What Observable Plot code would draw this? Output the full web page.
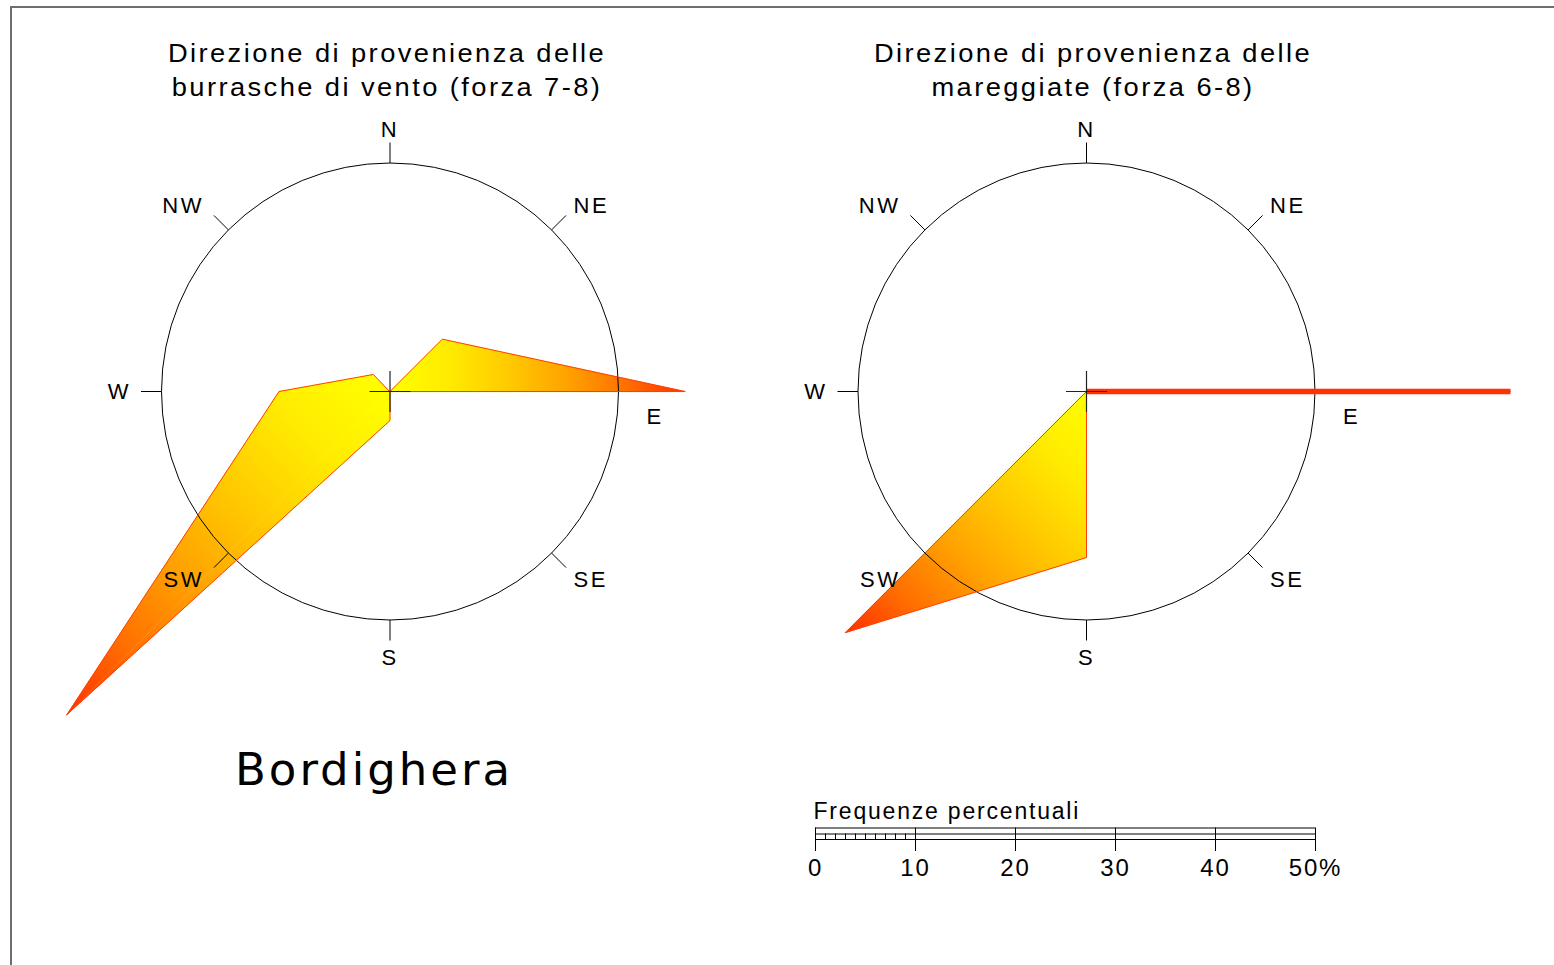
<!DOCTYPE html>
<html><head><meta charset="utf-8">
<script src="https://cdn.jsdelivr.net/npm/d3@7"></script>
<script src="https://cdn.jsdelivr.net/npm/@observablehq/plot@0.6"></script>
<style>
html,body{margin:0;padding:0;background:#fff;overflow:hidden}
#page{position:relative;width:1554px;height:965px;background:#fff;font-family:"Liberation Sans",Arial,sans-serif;color:#000}
#frame{position:absolute;left:10px;top:6px;width:1544px;height:959px;border-top:2px solid #6e6e6e;border-left:2px solid #6e6e6e;box-sizing:border-box}
.title{position:absolute;width:700px;text-align:center;font-size:26px;line-height:34px;letter-spacing:2.3px;transform:scaleX(1.05);transform-origin:50% 0;white-space:nowrap}
.station{position:absolute;font-family:"DejaVu Sans",sans-serif;font-size:45px;line-height:45px;letter-spacing:3px;white-space:nowrap}
</style></head>
<body><div id="page"><div id="frame"></div></div>
<script>
// ---- data ----
const directions = ["N", "NE", "E", "SE", "S", "SW", "W", "NW"];
const windGales = [0, 7.4, 29.5, 0, 2.9, 45.7, 11.1, 2.4];   // burrasche di vento forza 7-8 (%)
const seaStorms = [0, 0, 42.4, 0, 16.6, 34.1, 0, 0];         // mareggiate forza 6-8 (%)
const titleWind = ["Direzione di provenienza delle", "burrasche di vento (forza 7-8)"];
const titleSea = ["Direzione di provenienza delle", "mareggiate (forza 6-8)"];
const stationName = "Bordighera";
const scaleLabel = "Frequenze percentuali";
const scaleTicks = [0, 10, 20, 30, 40, 50];
const scaleTickLabels = ["0", "10", "20", "30", "40", "50%"];
const minorTicks = [1, 2, 3, 4, 5, 6, 7, 8, 9];

// ---- helpers ----
const page = document.getElementById("page");
const PX = 10;          // pixels per percent
const RING = 22.85;     // reference circle radius (%)
const TICK = 2.05;      // compass tick length (%)
const ramp = d3.scaleLinear().domain([0, 0.25, 0.5, 0.75, 1])
  .range(["#ffff00", "#ffe600", "#ffb800", "#ff8000", "#ff3000"]).clamp(true);
const ns = "http://www.w3.org/2000/svg";

function addTitle(lines, cx, top) {
  const d = document.createElement("div");
  d.className = "title";
  d.style.left = (cx - 350) + "px";
  d.style.top = top + "px";
  d.innerHTML = lines.map(s => s.replace(/&/g, "&amp;")).join("<br>");
  page.appendChild(d);
}

function rose(id, values, cx, cy, left, top, width, height) {
  const ang = i => i * Math.PI / 4;
  const pts = directions.map((d, i) => ({dir: d, i, v: values[i],
    x: values[i] * Math.sin(ang(i)), y: values[i] * Math.cos(ang(i))}));
  const triRows = [], grads = [];
  pts.forEach((a, i) => {
    const b = pts[(i + 1) % 8];
    if (a.v > 0 && b.v > 0) {
      const far = a.v >= b.v ? a : b;
      const gid = `${id}g${i}`;
      grads.push({id: gid, far, tEnd: Math.max(0, Math.min(1, (far.v - 8) / 20))});
      const g = `url(#${gid})`;
      triRows.push({tri: i, x: 0, y: 0, g}, {tri: i, x: a.x, y: a.y, g}, {tri: i, x: b.x, y: b.y, g});
    }
  });
  const spikes = pts.filter((p, i) => p.v > 0 && pts[(i + 7) % 8].v === 0 && pts[(i + 1) % 8].v === 0);
  // labels sit just beyond the tick ends
  const R2 = RING + TICK;
  const labels = pts.map(p => {
    const s = Math.sin(ang(p.i)), c = Math.cos(ang(p.i));
    const side = s > 0.01 ? 1 : s < -0.01 ? -1 : 0;
    const offX = side === 1 ? 0.75 : side === -1 ? -1.0 : 0;
    const offY = p.dir === "E" ? -2.5 : (c > 0 ? 1.3 * c : 1.7 * c);
    return {dir: p.dir, side, x: R2 * s + offX, y: R2 * c + offY};
  });
  const txt = {x: "x", y: "y", text: "dir", fontSize: 22, fill: "#000"};
  const chart = Plot.plot({
    width, height, margin: 0,
    x: {domain: [(left - cx) / PX, (left + width - cx) / PX], axis: null},
    y: {domain: [(cy - top - height) / PX, (cy - top) / PX], axis: null},
    color: {type: "identity"},
    style: {fontFamily: "'Liberation Sans', Arial, sans-serif", background: "transparent", letterSpacing: "2.5px", overflow: "visible"},
    marks: [
      Plot.line(triRows, {x: "x", y: "y", z: "tri", fill: "g", stroke: "g", strokeWidth: 0.6, curve: "linear-closed"}),
      Plot.dot([[0, 0]], {r: RING * PX, stroke: "#000", strokeWidth: 1, fill: "none"}),
      Plot.link(pts, {x1: d => RING * Math.sin(ang(d.i)), y1: d => RING * Math.cos(ang(d.i)),
        x2: d => R2 * Math.sin(ang(d.i)), y2: d => R2 * Math.cos(ang(d.i)),
        stroke: "#000", strokeWidth: 1}),
      Plot.line(pts, {x: "x", y: "y", curve: "linear-closed", stroke: "#ff4000", strokeWidth: 1, fill: "none"}),
      Plot.link(spikes, {x1: 0, y1: 0, x2: "x", y2: "y", stroke: "#ff3300", strokeWidth: 5.5}),
      Plot.link([[-2.05, 0, 2.05, 0], [0, -2.05, 0, 2.05]], {x1: d => d[0], y1: d => d[1], x2: d => d[2], y2: d => d[3], stroke: "#222", strokeWidth: 1.2}),
      Plot.text(labels.filter(d => d.side === 0), {...txt, textAnchor: "middle"}),
      Plot.text(labels.filter(d => d.side === 1), {...txt, textAnchor: "start"}),
      Plot.text(labels.filter(d => d.side === -1), {...txt, textAnchor: "end"})
    ]
  });
  // gradient definitions (user space, pixel coordinates of this svg)
  const ox = cx - left, oy = cy - top;
  const defs = document.createElementNS(ns, "defs");
  grads.forEach(g => {
    const lg = document.createElementNS(ns, "linearGradient");
    lg.setAttribute("id", g.id);
    lg.setAttribute("gradientUnits", "userSpaceOnUse");
    lg.setAttribute("x1", ox); lg.setAttribute("y1", oy);
    lg.setAttribute("x2", ox + g.far.x * PX); lg.setAttribute("y2", oy - g.far.y * PX);
    [0, 0.2, 0.4, 0.6, 0.8, 1].forEach(s => {
      const st = document.createElementNS(ns, "stop");
      st.setAttribute("offset", s);
      st.setAttribute("stop-color", ramp(s * g.tEnd));
      lg.appendChild(st);
    });
    defs.appendChild(lg);
  });
  chart.insertBefore(defs, chart.firstChild);
  chart.style.position = "absolute";
  chart.style.left = left + "px";
  chart.style.top = top + "px";
  chart.style.maxWidth = "none";
  page.appendChild(chart);
}

rose("w", windGales, 389.5, 391, 0, 0, 780, 780);
rose("s", seaStorms, 1086, 391, 696, 0, 858, 780);

addTitle(titleWind, 387, 36);
addTitle(titleSea, 1093, 36);

const st = document.createElement("div");
st.className = "station";
st.style.left = "235px"; st.style.top = "747px";
st.textContent = stationName;
page.appendChild(st);

// ---- scale bar ----
const bar = Plot.plot({
  width: 600, height: 100, marginLeft: 35, marginRight: 65, marginTop: 0, marginBottom: 0,
  x: {domain: [0, 50], axis: null},
  y: {domain: [0, 100], range: [0, 100], axis: null},
  style: {fontFamily: "'Liberation Sans', Arial, sans-serif", background: "transparent", overflow: "visible"},
  marks: [
    Plot.ruleY([37.5, 43.5, 49], {x1: 0, x2: 50, stroke: "#000", strokeWidth: 1}),
    Plot.ruleX(scaleTicks, {y1: 37.5, y2: 61, stroke: "#000", strokeWidth: 1}),
    Plot.ruleX(minorTicks, {y1: 43.5, y2: 49, stroke: "#000", strokeWidth: 1}),
    Plot.text(scaleTicks, {x: d => d, y: 78, text: (d, i) => scaleTickLabels[i], fontSize: 24, fill: "#000"}),
    Plot.text([scaleLabel], {x: () => 0, y: 21, text: d => d, textAnchor: "start", dx: -2, fontSize: 23, fill: "#000"})
  ]
});
bar.style.position = "absolute";
bar.style.left = "780px";
bar.style.top = "790px";
bar.style.maxWidth = "none";
bar.style.letterSpacing = "1.8px";
page.appendChild(bar);
</script>
</body></html>
